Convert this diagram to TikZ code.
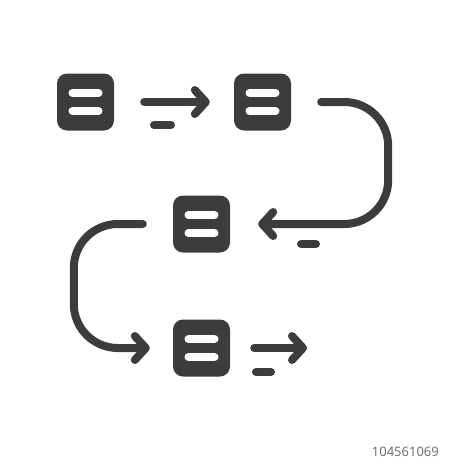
\documentclass[tikz,border=0pt]{standalone}
\usepackage{fontspec}
\newfontfamily\stampfont{Open Sans}
\usetikzlibrary{arrows.meta}
\definecolor{icongray}{HTML}{3C3C3C}
\tikzset{
  card/.style={
    fill=icongray,
    rounded corners=10pt,
    minimum size=57pt,
    inner sep=0pt
  },
  slot/.style={draw=white, line width=8pt, line cap=round},
  flow/.style={
    draw=icongray,
    line width=8pt,
    line cap=round,
    line join=round
  },
  flowtip/.style={
    flow,
    -{Straight Barb[length=11pt,width=24pt,line cap=round,line join=round]}
  }
}

\begin{document}
\begin{tikzpicture}[x=1pt,y=-1pt]
  \useasboundingbox (0,0) rectangle (450,469);
  \node[card] (b1) at (85.5,102) {};
  \node[card] (b2) at (262.5,102) {};
  \node[card] (b3) at (201.5,224) {};
  \node[card] (b4) at (201.5,348) {};
  \foreach \b in {b1,b2,b3,b4} {
    \draw[slot] ([xshift=-13pt,yshift=9pt]\b.center) -- ([xshift=13pt,yshift=9pt]\b.center);
    \draw[slot] ([xshift=-13pt,yshift=-9pt]\b.center) -- ([xshift=13pt,yshift=-9pt]\b.center);
  }
  % connectors
  \draw[flowtip] ([xshift=30pt]b1.east) -- ([xshift=-24pt]b2.west);
  \draw[flowtip, rounded corners=44pt] ([xshift=30pt]b2.east) -- ++(67,0) |- ([xshift=28pt]b3.east);
  \draw[flowtip, rounded corners=44pt] ([xshift=-30pt]b3.west) -- ++(-69,0) |- ([xshift=-23pt]b4.west);
  \coordinate (out) at (307,348);
  \draw[flowtip] ([xshift=24pt]b4.east) -- (out);
  % small dashes
  \draw[flow] (154,125) -- (171,125);
  \draw[flow] (301,244) -- (316,244);
  \draw[flow] (256,372) -- (271,372);
  \node[text=gray!80!black, font=\stampfont\fontsize{13}{15}\selectfont, anchor=east, inner sep=0pt] (stock) at (439,452) {104561069};
\end{tikzpicture}
\end{document}
